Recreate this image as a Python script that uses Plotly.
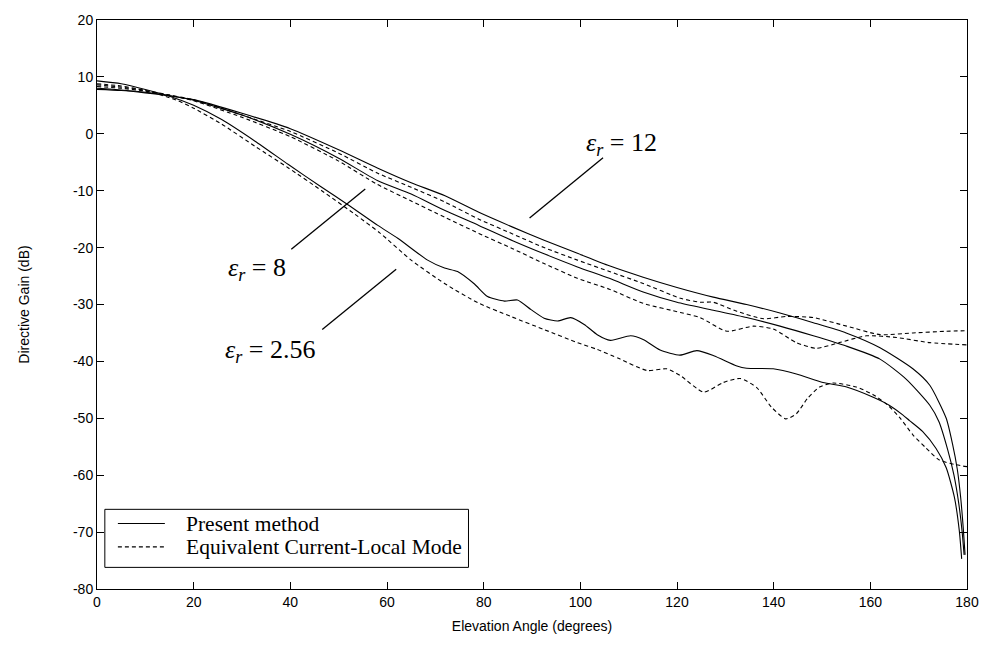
import plotly.graph_objects as go

# ---------------- data ----------------
x_12_solid = [0, 5, 10, 15, 20, 30, 40, 50, 58, 65, 72, 79, 86, 92.5, 99.4, 106, 113, 120, 127.5, 134.4,
              141.3, 148.2, 155, 162, 168.8, 172.3, 175.7, 177.0, 178.0, 178.7, 179.2, 179.6]
y_12_solid = [7.8, 7.6, 7.2, 6.7, 6.0, 3.6, 0.9, -2.8, -6.0, -8.6, -10.9, -13.8, -16.4, -18.7, -21.0, -23.2,
              -25.2, -27.0, -28.7, -30.0, -31.5, -33.2, -35.0, -37.6, -41.3, -44.2, -50.0, -54.5, -59.0,
              -64.0, -69.0, -74.0]

x_12_dash = [0, 5, 10, 15, 20, 30, 40, 50, 58, 65, 72, 79, 86, 92.5, 99.4, 106, 113, 120.7, 124.8, 127.5,
             132.4, 137.9, 142.7, 148.2, 155.1, 162, 168.8, 175.7, 180]
y_12_dash = [8.3, 8.0, 7.5, 6.8, 6.0, 3.3, 0.4, -3.4, -6.9, -9.4, -12.0, -15.0, -17.6, -20.0, -22.2, -24.2,
             -26.3, -28.9, -29.6, -29.6, -31.2, -32.5, -32.1, -32.3, -33.8, -35.3, -35.0, -34.7, -34.6]

x_8_solid = [0, 5, 10, 15, 20, 30, 40, 50, 58, 65, 72, 79, 86, 92.5, 99.4, 106, 113, 120, 127.5, 134.4,
             141.3, 148.2, 155, 162, 167.4, 172.3, 174.2, 176.0, 177.3, 178.3, 179.0, 179.4]
y_8_solid = [8.0, 7.7, 7.3, 6.7, 5.9, 3.3, -0.1, -4.3, -8.2, -10.6, -13.5, -16.1, -18.8, -21.1, -23.4, -25.4,
             -27.8, -29.6, -31.0, -32.3, -33.8, -35.5, -37.3, -39.6, -43.1, -47.7, -50.6, -55.5, -60.0,
             -65.0, -70.0, -74.0]

x_8_dash = [0, 5, 10, 15, 20, 30, 40, 50, 58, 65, 72, 79, 86, 92.5, 99.4, 106, 113, 120.7, 124.8, 130.3,
            135.8, 139.9, 144.7, 148.8, 153.6, 159.2, 165.4, 172.3, 180]
y_8_dash = [8.6, 8.2, 7.6, 6.8, 5.8, 2.9, -0.5, -4.8, -8.9, -11.8, -14.7, -17.5, -20.2, -22.8, -25.4, -27.3,
            -29.8, -31.4, -32.3, -34.7, -33.8, -34.3, -36.7, -37.7, -36.7, -35.5, -35.8, -36.7, -37.1]

x_256_solid = [0, 5, 10, 15, 20, 25.8, 32.7, 39.6, 46.5, 52, 58.1, 62.3, 68.4, 71.9, 74.6, 78.1, 80.8, 84.3,
               87.0, 89.8, 92.5, 95.3, 98.0, 100.8, 103.5, 106.2, 110.4, 113.1, 116.5, 120.6, 124.1, 127.6,
               132.4, 134.4, 139.9, 144.7, 150.2, 155.1, 160.6, 163.9, 166.7, 168.1, 170.8, 173.6, 175.7,
               177.4, 178.4, 178.9]
y_256_solid = [9.3, 8.8, 7.8, 6.6, 5.0, 2.5, -1.3, -5.4, -9.4, -12.5, -16.1, -18.4, -22.2, -23.6, -24.2,
               -26.4, -28.6, -29.4, -29.2, -30.9, -32.4, -32.9, -32.3, -33.5, -35.3, -36.3, -35.5, -36.2,
               -38.0, -38.9, -38.1, -39.0, -40.8, -41.2, -41.3, -42.2, -43.7, -44.5, -46.3, -47.7, -49.4,
               -50.4, -52.3, -55.3, -58.7, -63.9, -69.7, -74.7]

x_256_dash = [0, 5, 10, 16.2, 20, 25.8, 32.7, 39.6, 46.5, 53.3, 58.5, 65.0, 71.9, 78.8, 85.6, 92.5, 99.4,
              103.5, 108, 113.8, 117.9, 120.7, 125.5, 129.6, 133.1, 136.5, 139.5, 142.5, 144.7, 147, 149.5,
              152.3, 157.1, 160.5, 163.5, 166, 168.8, 171.5, 174.2, 177.4, 179.2, 180]
y_256_dash = [8.8, 8.4, 7.6, 6.0, 4.5, 1.7, -2.2, -6.0, -10.0, -14.1, -17.4, -22.2, -26.3, -29.7, -32.1,
              -34.4, -36.7, -37.9, -39.5, -41.6, -41.3, -42.5, -45.4, -43.7, -43.0, -44.6, -48.0, -50.1,
              -49.2, -46.5, -44.5, -43.8, -44.5, -45.8, -47.6, -49.8, -52.9, -55.2, -57.3, -58.1, -58.4,
              -58.5]

legend_names = ["Present method", "Equivalent Current-Local Mode"]
label_texts = ["<i>ε<sub>r</sub></i> = 12", "<i>ε<sub>r</sub></i> = 8", "<i>ε<sub>r</sub></i> = 2.56"]
label_pos_x = [108.5, 33.0, 35.9]
label_pos_y = [-1.8, -23.8, -38.1]
leader_x0 = [89.5, 40.2, 46.6]
leader_y0 = [-14.8, -20.3, -34.4]
leader_x1 = [104.7, 55.5, 61.9]
leader_y1 = [-4.2, -9.7, -23.8]

x_ticks = list(range(0, 181, 20))
y_ticks = list(range(-80, 21, 10))

# ---------------- figure ----------------
fig = go.Figure()
solid = dict(color="black", width=1.1)
dashed = dict(color="black", width=1.1, dash="4px,3px")

for xs, ys in [(x_12_solid, y_12_solid), (x_8_solid, y_8_solid), (x_256_solid, y_256_solid)]:
    fig.add_trace(go.Scatter(x=xs, y=ys, mode="lines", line=dict(shape="spline", smoothing=0.6, **solid),
                             name=legend_names[0], showlegend=False))
for xs, ys in [(x_12_dash, y_12_dash), (x_8_dash, y_8_dash), (x_256_dash, y_256_dash)]:
    fig.add_trace(go.Scatter(x=xs, y=ys, mode="lines", line=dict(shape="spline", smoothing=0.6, **dashed),
                             name=legend_names[1], showlegend=False))

# leader lines and labels
for i in range(3):
    fig.add_shape(type="line", xref="x", yref="y", x0=leader_x0[i], y0=leader_y0[i],
                  x1=leader_x1[i], y1=leader_y1[i], line=dict(color="black", width=1.3))
    fig.add_annotation(x=label_pos_x[i], y=label_pos_y[i], xref="x", yref="y", text=label_texts[i],
                       showarrow=False, font=dict(family="Liberation Serif", size=26, color="black"))

# manual legend (box, sample lines, text)
fig.add_shape(type="rect", xref="paper", yref="paper", x0=0.009, x1=0.427, y0=0.038, y1=0.140,
              line=dict(color="black", width=1), fillcolor="white", layer="above")
fig.add_shape(type="line", xref="paper", yref="paper", x0=0.024, x1=0.078, y0=0.115, y1=0.115,
              line=dict(color="black", width=1.1), layer="above")
fig.add_shape(type="line", xref="paper", yref="paper", x0=0.024, x1=0.078, y0=0.074, y1=0.074,
              line=dict(color="black", width=1.1, dash="4px,3px"), layer="above")
fig.add_annotation(x=0.100, y=0.115, xref="paper", yref="paper", text=legend_names[0], showarrow=False,
                   xanchor="left", yanchor="middle",
                   font=dict(family="Liberation Serif", size=21.5, color="black"))
fig.add_annotation(x=0.100, y=0.074, xref="paper", yref="paper", text=legend_names[1], showarrow=False,
                   xanchor="left", yanchor="middle",
                   font=dict(family="Liberation Serif", size=21.5, color="black"))

axis_common = dict(showgrid=False, zeroline=False, showline=True, linecolor="black", linewidth=1,
                   mirror="allticks", ticks="inside", ticklen=7, tickcolor="black", tickwidth=1,
                   tickfont=dict(family="Liberation Sans", size=14, color="black"))
fig.update_xaxes(range=[0, 180], tickvals=x_ticks, ticktext=[str(v) for v in x_ticks],
                 title=dict(text="Elevation Angle (degrees)", standoff=12,
                            font=dict(family="Liberation Sans", size=14, color="black")),
                 **axis_common)
fig.update_yaxes(range=[-80, 20], tickvals=y_ticks, ticktext=[str(v) for v in y_ticks],
                 title=dict(text="Directive Gain (dB)", standoff=40,
                            font=dict(family="Liberation Sans", size=14, color="black")),
                 **axis_common)

fig.update_layout(width=991, height=645, margin=dict(l=97, r=20, t=14, b=56),
                  plot_bgcolor="white", paper_bgcolor="white", showlegend=False)

fig.write_html("out.html")
